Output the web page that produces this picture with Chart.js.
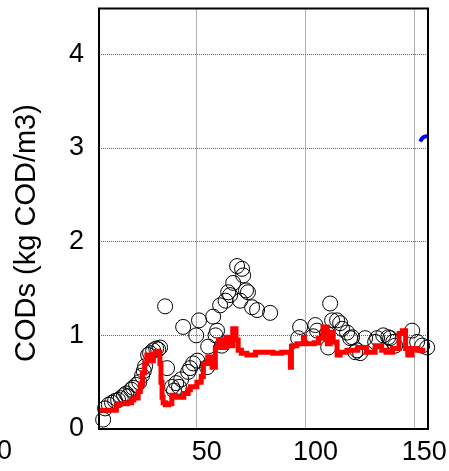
<!DOCTYPE html>
<html>
<head>
<meta charset="utf-8">
<script src="https://cdn.jsdelivr.net/npm/chart.js@4"></script>
<style>
  html, body { margin: 0; padding: 0; background: #fff; }
</style>
</head>
<body>
<canvas id="codChart" width="449" height="471"></canvas>
<script>
// measured soluble COD (open circles)
var measDay = [6.9, 7.8, 9.5, 11.0, 12.4, 13.8, 15.0, 16.5, 17.5, 18.4, 19.8, 20.7, 22.1, 23.5, 24.8, 25.6,
    26.2, 27.6, 28.5, 29.9, 31.3, 32.2, 33.1, 35.4, 36.3, 38.6, 39.5, 40.5, 41.8, 42.8, 43.7, 46.0, 46.9,
    48.3, 49.7, 50.2, 51.0, 54.7, 55.2, 57.5, 58.6, 59.3, 60.7, 61.5, 63.2, 64.4, 65.3, 66.7, 68.5, 69.9,
    70.8, 71.3, 72.6, 73.5, 75.4, 77.7, 83.7, 96.6, 97.5, 103.5, 104.5, 105.3, 109.9, 110.4, 111.3, 112.2,
    114.5, 115.9, 116.8, 119.1, 120.5, 121.4, 122.8, 123.7, 125.1, 127.4, 132.0, 132.9, 135.7, 138.0,
    138.9, 140.3, 141.2, 149.0, 151.3, 153.6, 155.9];
var measCod = [0.10, 0.22, 0.26, 0.28, 0.30, 0.31, 0.33, 0.36, 0.38, 0.35, 0.42, 0.44, 0.47, 0.50, 0.57, 0.62,
    0.67, 0.79, 0.81, 0.84, 0.86, 0.85, 0.87, 1.31, 0.65, 0.45, 0.41, 0.49, 0.45, 0.53, 1.09, 0.61, 0.65,
    0.70, 1.00, 0.73, 1.16, 0.66, 0.88, 1.20, 1.00, 1.05, 1.32, 0.89, 1.37, 1.46, 1.43, 1.56, 1.74, 1.37,
    1.71, 1.64, 1.48, 1.46, 1.30, 1.27, 1.24, 0.97, 1.09, 0.99, 1.11, 1.05, 1.02, 0.87, 1.34, 1.16,
    1.16, 1.13, 1.07, 1.03, 0.97, 0.98, 0.82, 0.84, 0.81, 0.97, 0.93, 0.97, 1.00, 0.98,
    0.97, 0.93, 0.89, 1.05, 0.93, 0.89, 0.87];

// simulated soluble COD (red)
var simDay = [5, 13, 14, 18, 20, 21, 23, 24, 25, 26, 27, 28, 29, 30, 31, 32, 33, 33.5, 34, 34.5, 35.5, 37,
    38.5, 40, 41.5, 44, 46, 47, 50, 52, 53, 55, 57, 58.5, 60, 62, 63.5, 65, 66.5, 68, 69, 70.5, 73, 77, 78,
    85, 89, 93, 93.5, 94, 96, 99, 99.5, 104, 106, 108, 110, 111.3, 112.7, 114.5, 115.9, 117, 119, 124, 128,
    132, 135, 137, 140, 143, 144.5, 146, 147, 149, 151.5, 155];
var simCod = [0.20, 0.20, 0.25, 0.27, 0.28, 0.31, 0.33, 0.40, 0.48, 0.60, 0.70, 0.79, 0.77, 0.73, 0.80, 0.83,
    0.82, 0.70, 0.50, 0.34, 0.28, 0.26, 0.27, 0.36, 0.34, 0.34, 0.38, 0.42, 0.45, 0.50, 0.56, 0.70, 0.77,
    0.66, 0.87, 0.95, 0.87, 0.98, 0.89, 1.07, 0.95, 0.84, 0.81, 0.79, 0.82, 0.82, 0.81, 0.82, 0.66, 0.88,
    0.89, 0.91, 0.98, 0.91, 0.92, 0.97, 1.09, 0.91, 1.03, 0.93, 0.79, 0.82, 0.82, 0.84, 0.87, 0.82, 0.89,
    0.84, 0.82, 0.86, 1.02, 1.05, 0.86, 0.79, 0.86, 0.84];

// second run, only its start shows at the right edge (blue)
var runDay = [152.7, 153.5, 154.5, 156.3];
var runCod = [3.07, 3.10, 3.12, 3.13];

var xTicks = [50, 100, 150];
var yTicks = [0, 1, 2, 3, 4];

function pts(xs, ys) {
    return xs.map(function (x, i) { return { x: x, y: ys[i] }; });
}

var tickFont = { family: 'Liberation Sans', size: 27 };

// frame round the plot plus the rotated axis title
var framePlugin = {
    id: 'frame',
    afterDatasetsDraw: function (chart) {
        var a = chart.chartArea;
        var ctx = chart.ctx;
        ctx.save();
        ctx.strokeStyle = '#000';
        ctx.lineWidth = 2;
        ctx.strokeRect(a.left, a.top, a.right - a.left, a.bottom - a.top);

        ctx.fillStyle = '#000';
        ctx.textAlign = 'right';
        ctx.textBaseline = 'middle';
        ctx.font = '27px "Liberation Sans"';
        ctx.fillText('0', 12, 452);

        ctx.translate(27, 233);
        ctx.rotate(-Math.PI / 2);
        ctx.textAlign = 'center';
        ctx.font = '29px "Liberation Sans"';
        ctx.fillText('CODs (kg COD/m3)', 0, 0);
        ctx.restore();
    }
};

var ctx = document.getElementById('codChart').getContext('2d');
var codChart = new Chart(ctx, {
    type: 'scatter',
    data: {
        datasets: [{
            data: pts(simDay, simCod),
            showLine: true,
            stepped: 'after',
            borderColor: '#ff0000',
            borderWidth: 5,
            pointRadius: 0,
            order: 0
        }, {
            data: pts(runDay, runCod),
            showLine: true,
            borderColor: '#0000ff',
            borderWidth: 4,
            pointRadius: 0,
            order: 1
        }, {
            data: pts(measDay, measCod),
            pointRadius: 7.5,
            pointBorderWidth: 1,
            borderColor: '#000',
            backgroundColor: 'rgba(0,0,0,0)',
            clip: false,
            order: 2
        }]
    },
    options: {
        responsive: false,
        animation: false,
        devicePixelRatio: 1,
        layout: { padding: { top: 7, right: 21 } },
        plugins: { legend: { display: false }, tooltip: { enabled: false } },
        scales: {
            x: {
                type: 'linear',
                min: 5,
                max: 156.3,
                afterBuildTicks: function (s) { s.ticks = xTicks.map(function (v) { return { value: v }; }); },
                afterFit: function (s) { s.height = 42; s.paddingLeft = 0; s.paddingRight = 0; },
                grid: { color: '#666', lineWidth: 1, drawTicks: false },
                border: { display: false, dash: [1, 1] },
                ticks: { font: tickFont, color: '#000', padding: 7, labelOffset: 10, maxRotation: 0, autoSkip: false }
            },
            y: {
                min: 0,
                max: 4.49,
                afterBuildTicks: function (s) { s.ticks = yTicks.map(function (v) { return { value: v }; }); },
                afterFit: function (s) { s.width = 99; s.paddingTop = 0; s.paddingBottom = 0; },
                grid: { color: '#666', lineWidth: 1, drawTicks: false },
                border: { display: false, dash: [1, 1] },
                ticks: { font: tickFont, color: '#000', padding: 15 }
            }
        }
    },
    plugins: [framePlugin]
});
</script>
</body>
</html>
